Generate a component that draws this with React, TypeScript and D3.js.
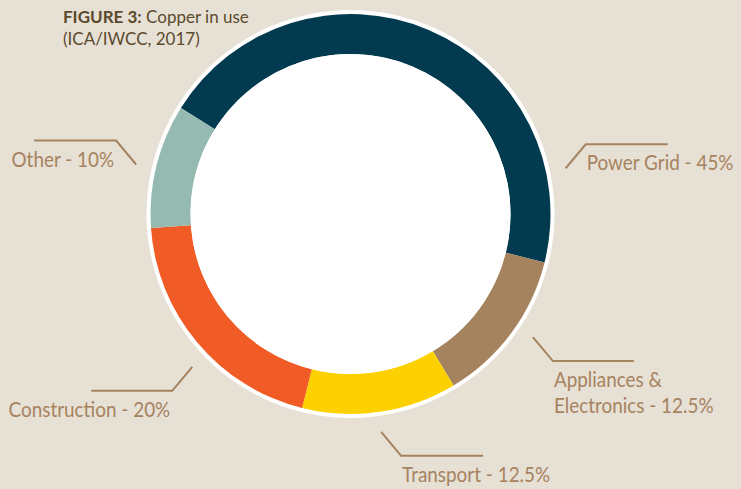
import React from "react";
import * as d3 from "d3";

const categories = ["Power Grid", "Appliances & Electronics", "Transport", "Construction", "Other"];
const values = [45, 12.5, 12.5, 20, 10];
const labelLines = [
  ["Power Grid - 45%"],
  ["Appliances &", "Electronics - 12.5%"],
  ["Transport - 12.5%"],
  ["Construction - 20%"],
  ["Other - 10%"],
];
const colors = ["#023a4f", "#a6835f", "#fdd100", "#f15b25", "#95bab1"];

// layout (not data)
const W = 741, H = 489;
const cx = 350.5, cy = 214;
const rWhite = 204, rOuter = 200, rInner = 160;
const startDeg = -58;
const leaders = [
  { a: 78, dx: 1, dy: -1, hl: 82 },
  { a: 124, dx: 1, dy: 1, hl: 81 },
  { a: 172, dx: 1, dy: 1, hl: 82 },
  { a: 226, dx: -1, dy: 1, hl: 81 },
  { a: 283, dx: -1, dy: -1, hl: 82 },
];
const leaderR = 220;
const labelColor = "#a6835f";
const font = "Lato, 'Open Sans', sans-serif";

export default function App() {
  const pie = d3.pie<number>().sort(null)
    .startAngle((startDeg * Math.PI) / 180)
    .endAngle(((startDeg + 360) * Math.PI) / 180);
  const arcs = pie(values);
  const arc = d3.arc<d3.PieArcDatum<number>>().innerRadius(rInner).outerRadius(rOuter);

  return (
    <svg width={W} height={H} style={{ position: "absolute", left: 0, top: 0 }}>
      <rect width={W} height={H} fill="#e7e0d5" />
      <circle cx={cx} cy={cy} r={rWhite} fill="#ffffff" />
      <g transform={`translate(${cx},${cy})`}>
        {arcs.map((d, i) => (
          <path key={categories[i]} d={arc(d) || ""} fill={colors[i]} />
        ))}
        <circle r={rInner} fill="#ffffff" />
      </g>
      {leaders.map((L, i) => {
        const a = (L.a * Math.PI) / 180;
        const x0 = cx + leaderR * Math.sin(a);
        const y0 = cy - leaderR * Math.cos(a);
        const x1 = x0 + L.dx * 20;
        const y1 = y0 + L.dy * 24;
        const x2 = x1 + L.dx * L.hl;
        const tx = L.dx > 0 ? x1 + 1 : x1 - 2;
        const anchor = L.dx > 0 ? "start" : "end";
        return (
          <g key={i}>
            <polyline points={`${x0},${y0} ${x1},${y1} ${x2},${y1}`} fill="none" stroke={labelColor} strokeWidth={2} />
            <g transform={`translate(${tx},${y1 + 26}) scale(0.9,1)`}>
              <text x={0} y={0} textAnchor={anchor} fill={labelColor} fontFamily={font} fontSize={21}>
                {labelLines[i].map((t, j) => (
                  <tspan key={j} x={0} dy={j === 0 ? 0 : 26}>{t}</tspan>
                ))}
              </text>
            </g>
          </g>
        );
      })}
      <text x={63} y={23} fill="#5b4a2c" fontFamily={font} fontSize={17}>
        <tspan fontWeight="bold">FIGURE 3:</tspan>
        <tspan> Copper in use</tspan>
        <tspan x={63} dy={22}>(ICA/IWCC, 2017)</tspan>
      </text>
    </svg>
  );
}
